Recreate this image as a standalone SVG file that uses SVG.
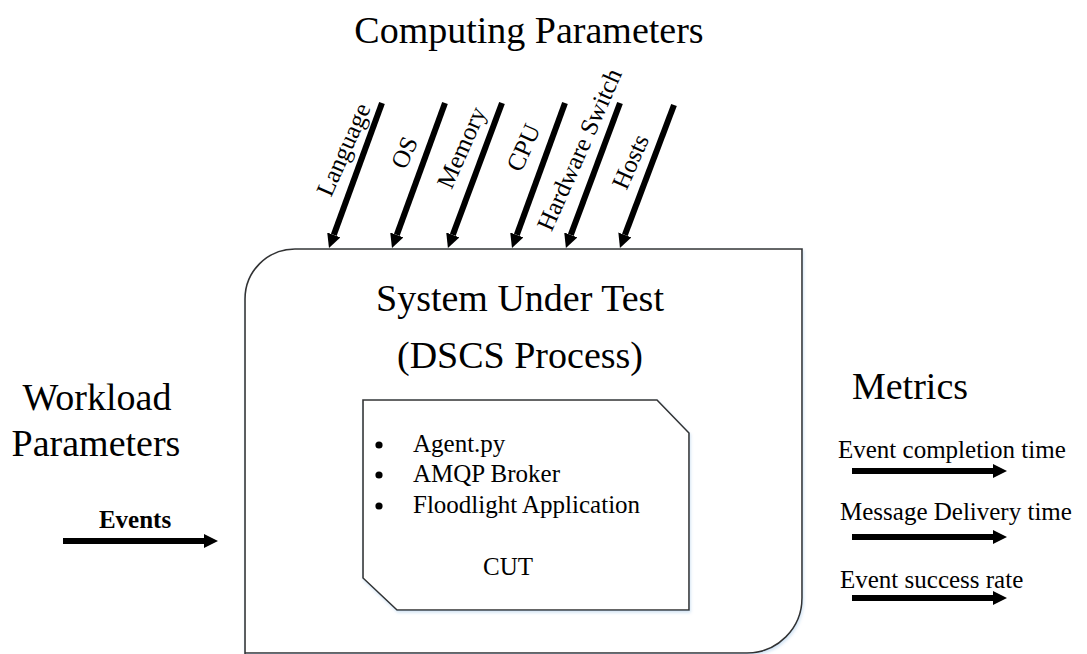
<svg xmlns="http://www.w3.org/2000/svg" width="1087" height="654" viewBox="0 0 1087 654">
<style>
  text { font-family: "Liberation Serif", "Times New Roman", serif; fill: #000; }
  .big { font-size: 38px; }
  .mid { font-size: 25px; }
  .box { fill: #fff; stroke: #333; stroke-width: 1.6; }
  .arr { stroke: #000; stroke-width: 6; fill: none; marker-end: url(#head); }
</style>
<defs>
  <marker id="head" markerUnits="userSpaceOnUse" viewBox="0 -7 14 14" refX="0" refY="0" markerWidth="14" markerHeight="14" orient="auto">
    <path d="M0,-7 L14,0 L0,7 Z" fill="#000"/>
  </marker>
  <filter id="shadow" x="-10%" y="-10%" width="120%" height="120%">
    <feDropShadow dx="1" dy="2" stdDeviation="1.5" flood-color="#9dc3e6" flood-opacity="0.45"/>
  </filter>
</defs>
<rect width="1087" height="654" fill="#fff"/>

<g id="title-computing">
  <text class="big" x="529" y="43" text-anchor="middle">Computing Parameters</text>
</g>

<g id="system-under-test">
  <path class="box" filter="url(#shadow)" d="M245,654 L245,299 A50,50 0 0 1 295,249 L802,249 L802,598 A55,55 0 0 1 747,653 L245,653 Z"/>
  <text class="big" x="520" y="311" text-anchor="middle">System Under Test</text>
  <text class="big" x="520" y="368" text-anchor="middle">(DSCS Process)</text>
</g>

<g id="cut">
  <path class="box" filter="url(#shadow)" d="M363,400 L657,400 L689,433 L689,610 L397,610 L363,578 Z"/>
  <circle cx="379" cy="445" r="3.6" fill="#000"/>
  <circle cx="379" cy="475" r="3.6" fill="#000"/>
  <circle cx="379" cy="506" r="3.6" fill="#000"/>
  <text class="mid" x="413" y="452">Agent.py</text>
  <text class="mid" x="413" y="482">AMQP Broker</text>
  <text class="mid" x="413" y="513">Floodlight Application</text>
  <text class="mid" x="508" y="575" text-anchor="middle">CUT</text>
</g>

<g id="workload">
  <text class="big" x="97" y="410" text-anchor="middle">Workload</text>
  <text class="big" x="96" y="456" text-anchor="middle">Parameters</text>
  <text class="mid" x="135" y="528" text-anchor="middle" font-weight="bold">Events</text>
</g>

<g id="metrics">
  <text class="big" x="910" y="399" text-anchor="middle">Metrics</text>
  <text class="mid" x="838" y="458">Event completion time</text>
  <text class="mid" x="840" y="520">Message Delivery time</text>
  <text class="mid" x="840" y="588">Event success rate</text>
</g>

<g id="param-labels">
  <text class="mid" text-anchor="middle" transform="translate(351,153) rotate(-66)">Language</text>
  <text class="mid" text-anchor="middle" transform="translate(412,156) rotate(-66)">OS</text>
  <text class="mid" text-anchor="middle" transform="translate(469,151) rotate(-66)">Memory</text>
  <text class="mid" text-anchor="middle" transform="translate(531,151) rotate(-66)">CPU</text>
  <text class="mid" text-anchor="middle" transform="translate(587,153) rotate(-66)">Hardware Switch</text>
  <text class="mid" text-anchor="middle" transform="translate(638,165) rotate(-66)">Hosts</text>
</g>

<g id="connectors">
  <line class="arr" x1="382" y1="103" x2="333.8" y2="234.9"/>
  <line class="arr" x1="445" y1="103" x2="396.8" y2="234.9"/>
  <line class="arr" x1="502" y1="103" x2="452.8" y2="234.9"/>
  <line class="arr" x1="565" y1="103" x2="516.8" y2="234.9"/>
  <line class="arr" x1="620" y1="103" x2="570.8" y2="234.9"/>
  <line class="arr" x1="674" y1="105" x2="624.9" y2="234.9"/>
  <line class="arr" x1="63" y1="541" x2="204" y2="541"/>
  <line class="arr" x1="852" y1="471" x2="993" y2="471"/>
  <line class="arr" x1="852" y1="537" x2="993" y2="537"/>
  <line class="arr" x1="852" y1="598" x2="993" y2="598"/>
</g>
</svg>
